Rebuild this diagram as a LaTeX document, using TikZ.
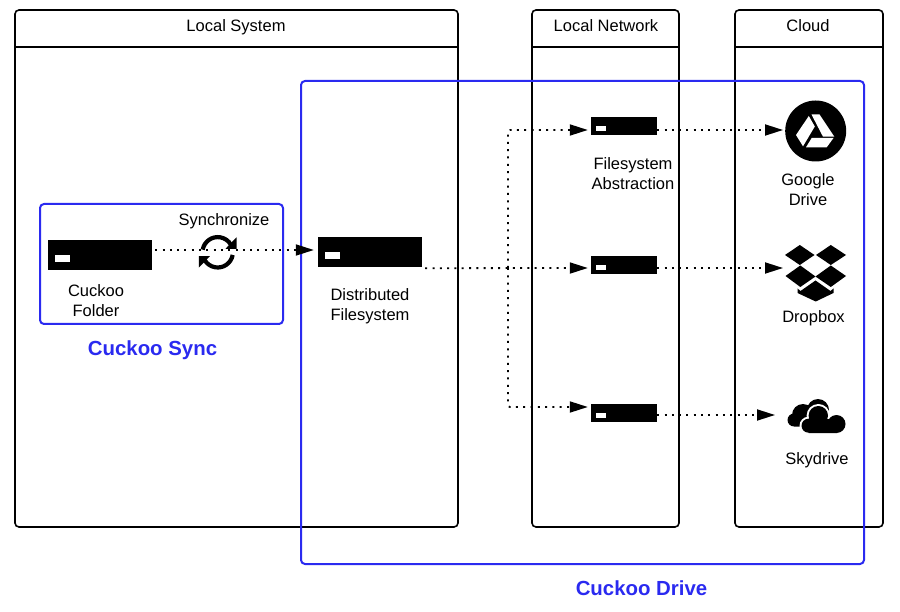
\documentclass[tikz,border=0pt]{standalone}
\usepackage{fontspec}
\setmainfont{Liberation Sans}
\usetikzlibrary{positioning,arrows.meta,calc}
\definecolor{cuckooblue}{HTML}{2A2AF0}

\begin{document}
\begin{tikzpicture}[
  x=1pt, y=-1pt,
  label/.style={font=\fontsize{16.5}{20}\selectfont, align=center, inner sep=0pt},
  title/.style={font=\bfseries\fontsize{20.4}{24}\selectfont, text=cuckooblue, inner sep=0pt},
  lane/.style={draw, line width=1.6pt, rounded corners=4pt},
  group/.style={draw=cuckooblue, line width=2pt, rounded corners=4pt},
  bigsrv/.style={fill=black, minimum width=104pt, minimum height=30pt, inner sep=0pt},
  smallsrv/.style={fill=black, minimum width=66pt, minimum height=18pt, inner sep=0pt},
  flow/.style={line width=1.8pt, dash pattern=on 2pt off 5.3pt, -{Triangle[length=18pt,width=11pt]}}
]
  \useasboundingbox (0,0) rectangle (900,612);

  % Lanes
  \draw[lane] (15,10) rectangle (458,527);
  \draw[lane] (532,10) rectangle (679,527);
  \draw[lane] (735,10) rectangle (883,527);
  \draw[line width=1.6pt] (15,47) -- (458,47);
  \draw[line width=1.6pt] (532,47) -- (679,47);
  \draw[line width=1.6pt] (735,47) -- (883,47);
  \node[label] (localsys) at (236,27.5) {Local System};
  \node[label] (localnet) at (606,26) {Local Network};
  \node[label] (cloud) at (808,26) {Cloud};

  % Groups
  \draw[group] (301,81) rectangle (864,564);
  \draw[group] (40,204) rectangle (283,324);
  \node[title] (sync) at (152.5,350) {Cuckoo Sync};
  \node[title] (drive) at (641.5,588) {Cuckoo Drive};

  % Servers
  \node[bigsrv] (folder) at (100,255) {};
  \node[bigsrv] (dist) at (370,252) {};
  \node[smallsrv] (srva) at (624,126) {};
  \node[smallsrv] (srvb) at (624,265) {};
  \node[smallsrv] (srvc) at (624,412.5) {};
  \fill[white] (55,255) rectangle (70,262);
  \fill[white] (325,252) rectangle (340,259);
  \foreach \y in {126,265,412.5} {
    \fill[white] (596,\y) rectangle (606,\y+5);
  }

  \node[label] (folderlbl) at (96,301) {Cuckoo\\Folder};
  \node[label] (synclbl) at (224,221.5) {Synchronize};
  \node[label] (distlbl) at (370,306) {Distributed\\Filesystem};
  \node[label] (abstrlbl) at (633,173.5) {Filesystem\\Abstraction};

  % Cloud icons
  \node[circle, fill=black, minimum size=61pt, inner sep=0pt] (gdrive) at (815.7,131) {};
  \fill[white] (811.5,114.5) -- (819.5,114.5) -- (834.3,136.7) -- (823,136.7) -- cycle;
  \fill[white] (808.8,116) -- (814.8,126.5) -- (803,146.3) -- (796,135) -- cycle;
  \fill[white] (811.7,138) -- (833.5,138) -- (826.7,147.3) -- (806,147.3) -- cycle;
  \node[label] (gdrivelbl) at (808,190) {Google\\Drive};

  \node[inner sep=0pt, minimum width=62pt, minimum height=58pt] (dropbox) at (815.5,272.5) {};
  \fill (785,255) -- (799.8,245) -- (814.5,255) -- (799.8,265) -- cycle;
  \fill (816,255) -- (830.8,245) -- (846,255) -- (830.8,265) -- cycle;
  \fill (785.5,276) -- (800.3,265.5) -- (815.5,276.5) -- (800.3,287) -- cycle;
  \fill (815.5,276.5) -- (830.8,265.5) -- (846,276) -- (830.8,287) -- cycle;
  \fill (797.5,288.5) -- (800.5,291) -- (815.5,280.5) -- (830.5,291) -- (833.5,288.5) -- (833.5,293) -- (815.7,301.5) -- (797.5,293) -- cycle;
  \node[label] (dropboxlbl) at (813.5,318) {Dropbox};

  \node[inner sep=0pt, minimum width=60pt, minimum height=36pt] (skydrive) at (818,417) {};
  \fill (803,415) circle[radius=11pt] (818,410) circle[radius=11pt]
        (794,420) circle[radius=6.5pt] (794,416) rectangle (828,426.5);
  \fill[white] (818.3,415.7) circle[radius=11.7pt] (836.5,424) circle[radius=11.5pt]
        (808.5,425.7) circle[radius=9pt] (808,424) rectangle (838,435);
  \fill (818.3,415.7) circle[radius=9.7pt] (836.5,424) circle[radius=9pt]
        (808.5,425.7) circle[radius=7pt] (808.5,419) rectangle (837,433);
  \node[label] (skydrivelbl) at (817,460) {Skydrive};

  % Sync symbol
  \node[inner sep=0pt, minimum size=38pt] (syncicon) at (217.7,252.3) {};
  \draw[line width=4.2pt] (syncicon.center) ++(170:15.2pt) arc[start angle=170, end angle=30, radius=15.2pt];
  \draw[line width=4.2pt] (syncicon.center) ++(-10:15.2pt) arc[start angle=-10, end angle=-150, radius=15.2pt];
  \fill (236.5,237.3) -- (236.5,248.8) -- (225.5,248.8) -- cycle;
  \fill (198.8,256.2) -- (198.8,267.7) -- (209.8,256.2) -- cycle;

  % Connectors
  \coordinate (distout) at ([xshift=3pt,yshift=-1pt]dist.south east);
  \coordinate (branch) at (508,268);
  \draw[flow] ([xshift=3pt,yshift=5pt]folder.east) -- ([xshift=-4pt,yshift=2pt]dist.west);
  \draw[flow] (distout) -- ([xshift=-3pt,yshift=-3pt]srvb.west);
  \draw[flow, rounded corners=2pt] (branch) |- ([xshift=-3pt,yshift=-4pt]srva.west);
  \draw[flow, rounded corners=2pt] (branch) |- ([xshift=-3pt,yshift=5.5pt]srvc.west);
  \draw[flow] ([yshift=-4pt]srva.east) -- ([xshift=-2pt,yshift=1pt]gdrive.west);
  \draw[flow] ([yshift=-3pt]srvb.east) -- (783,268);
  \draw[flow] ([yshift=-2.5pt]srvc.east) -- (775,415);
\end{tikzpicture}
\end{document}
